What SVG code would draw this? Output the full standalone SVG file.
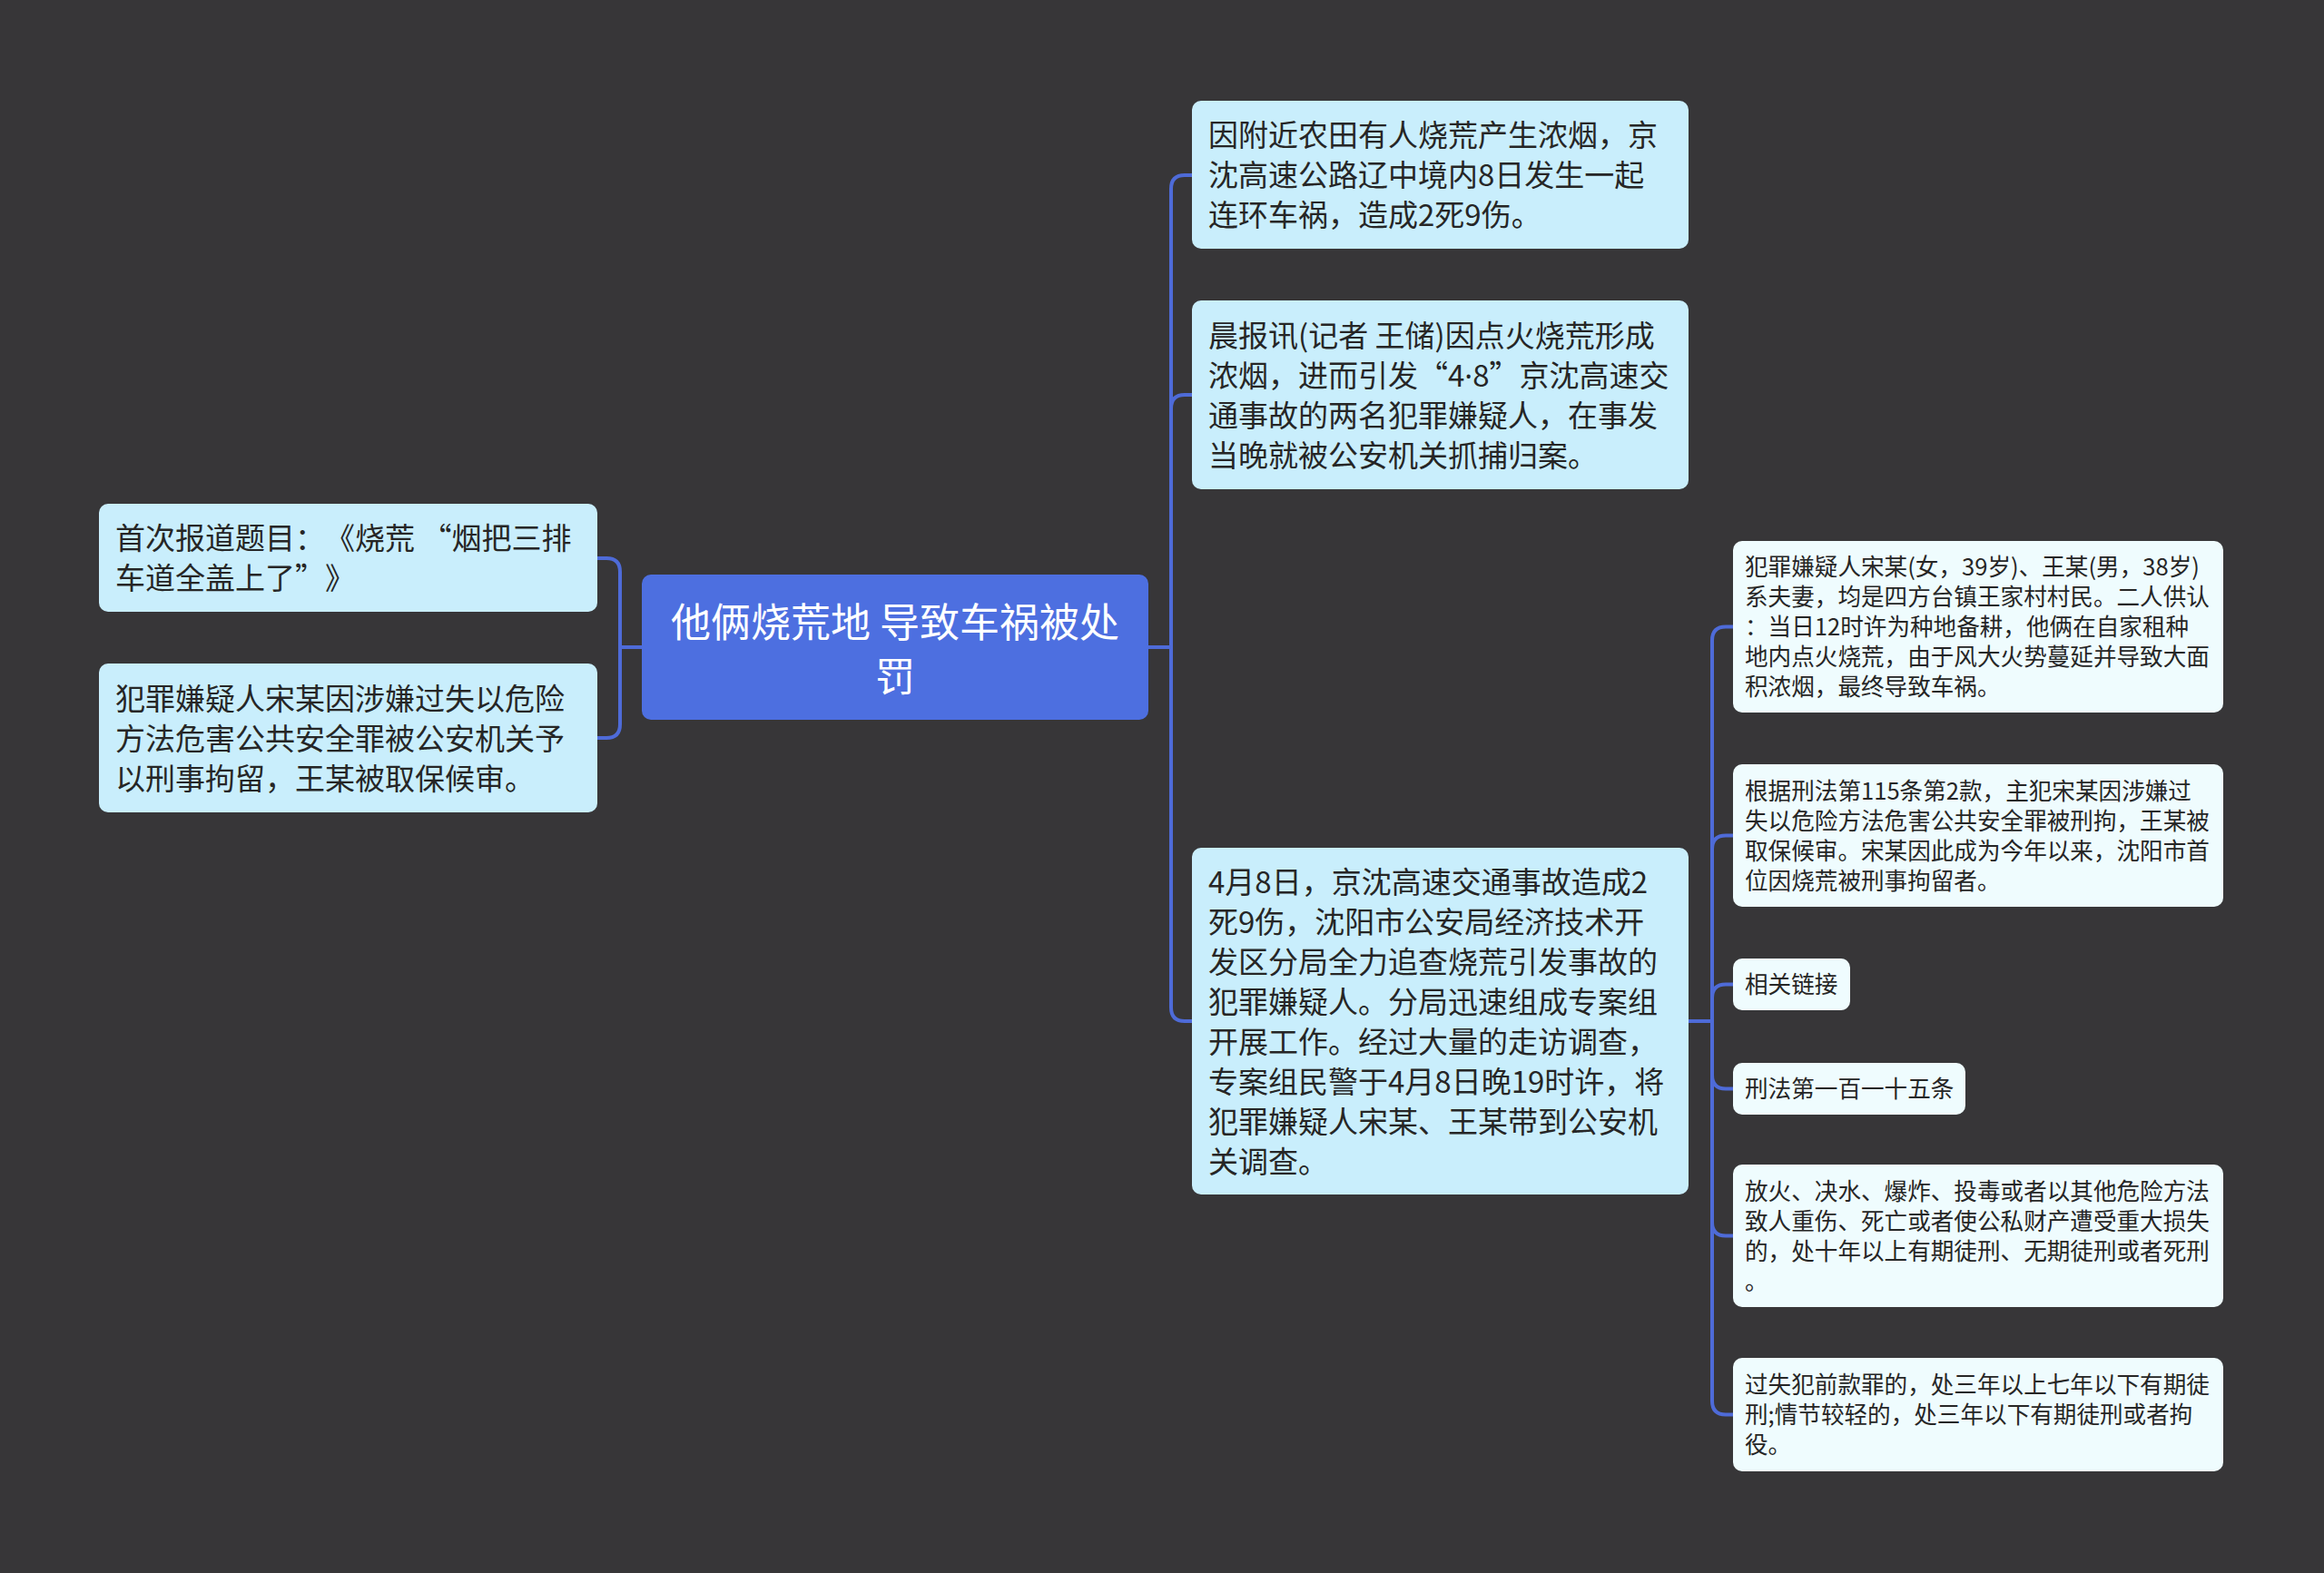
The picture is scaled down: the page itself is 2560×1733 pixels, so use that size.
<svg xmlns="http://www.w3.org/2000/svg" width="2560" height="1733" viewBox="0 0 2560 1733">
<style>
.bg{fill:#373638}
.n{fill:#c9eefc}
.s{fill:#effcfe}
.r{fill:#4d6fe0}
text{text-spacing-trim:space-all}
.t{font-family:"Noto Sans CJK SC","Noto Sans",sans-serif;font-size:33px;fill:#262626}
.ts{font-family:"Noto Sans CJK SC","Noto Sans",sans-serif;font-size:25.6px;fill:#262626}
.tr{font-family:"Noto Sans CJK SC","Noto Sans",sans-serif;font-size:44px;fill:#ffffff;text-anchor:middle}
.lat{font-family:"Noto Sans",sans-serif}
.c{fill:none;stroke:#4e6bd8;stroke-width:4}
</style>
<rect class="bg" x="0" y="0" width="2560" height="1733"/>
<g id="connectors">
<path class="c" d="M1265,713 H1290"/>
<path class="c" d="M1290,713 V208 Q1290,193 1305,193 H1313"/>
<path class="c" d="M1290,713 V450 Q1290,435 1305,435 H1313"/>
<path class="c" d="M1290,713 V1110 Q1290,1125 1305,1125 H1313"/>
<path class="c" d="M707,713 H683"/>
<path class="c" d="M683,713 V630 Q683,615 668,615 H658"/>
<path class="c" d="M683,713 V798 Q683,813 668,813 H658"/>
<path class="c" d="M1860,1125 H1886"/>
<path class="c" d="M1886,1125 V705.5 Q1886,690.5 1901,690.5 H1909"/>
<path class="c" d="M1886,1125 V935.5 Q1886,920.5 1901,920.5 H1909"/>
<path class="c" d="M1886,1125 V1099.5 Q1886,1084.5 1901,1084.5 H1909"/>
<path class="c" d="M1886,1125 V1184.5 Q1886,1199.5 1901,1199.5 H1909"/>
<path class="c" d="M1886,1125 V1346.5 Q1886,1361.5 1901,1361.5 H1909"/>
<path class="c" d="M1886,1125 V1543.5 Q1886,1558.5 1901,1558.5 H1909"/>
</g>
<g id="root">
<rect class="r" x="707" y="633" width="558" height="160" rx="10"/>
<text class="tr" x="986" y="702">他俩烧荒地 导致车祸被处</text>
<text class="tr" x="986" y="762">罚</text>
</g>
<g id="node1">
<rect class="n" x="1313" y="111" width="547" height="163" rx="10"/>
<text class="t" x="1331" y="161">因附近农田有人烧荒产生浓烟，京</text>
<text class="t" x="1331" y="205">沈高速公路辽中境内8日发生一起</text>
<text class="t" x="1331" y="249">连环车祸，造成2死9伤。</text>
</g>
<g id="node2">
<rect class="n" x="1313" y="331" width="547" height="208" rx="10"/>
<text class="t" x="1331" y="381.5">晨报讯(记者 王储)因点火烧荒形成</text>
<text class="t" x="1331" y="425.5">浓烟，进而引发“4<tspan class="lat">·</tspan>8”京沈高速交</text>
<text class="t" x="1331" y="469.5">通事故的两名犯罪嫌疑人，在事发</text>
<text class="t" x="1331" y="513.5">当晚就被公安机关抓捕归案。</text>
</g>
<g id="node3">
<rect class="n" x="1313" y="934" width="547" height="382" rx="10"/>
<text class="t" x="1331" y="983.5">4月8日，京沈高速交通事故造成2</text>
<text class="t" x="1331" y="1027.5">死9伤，沈阳市公安局经济技术开</text>
<text class="t" x="1331" y="1071.5">发区分局全力追查烧荒引发事故的</text>
<text class="t" x="1331" y="1115.5">犯罪嫌疑人。分局迅速组成专案组</text>
<text class="t" x="1331" y="1159.5">开展工作。经过大量的走访调查，</text>
<text class="t" x="1331" y="1203.5">专案组民警于4月8日晚19时许，将</text>
<text class="t" x="1331" y="1247.5">犯罪嫌疑人宋某、王某带到公安机</text>
<text class="t" x="1331" y="1291.5">关调查。</text>
</g>
<g id="left1">
<rect class="n" x="109" y="555" width="549" height="119" rx="10"/>
<text class="t" x="127" y="605">首次报道题目：《烧荒 “烟把三排</text>
<text class="t" x="127" y="649">车道全盖上了”》</text>
</g>
<g id="left2">
<rect class="n" x="109" y="731" width="549" height="164" rx="10"/>
<text class="t" x="127" y="781.5">犯罪嫌疑人宋某因涉嫌过失以危险</text>
<text class="t" x="127" y="825.5">方法危害公共安全罪被公安机关予</text>
<text class="t" x="127" y="869.5">以刑事拘留，王某被取保候审。</text>
</g>
<g id="sub1">
<rect class="s" x="1909" y="596" width="540" height="189" rx="10"/>
<text class="ts" x="1922" y="634">犯罪嫌疑人宋某(女，39岁)、王某(男，38岁)</text>
<text class="ts" x="1922" y="667">系夫妻，均是四方台镇王家村村民。二人供认</text>
<text class="ts" x="1922" y="700">：当日12时许为种地备耕，他俩在自家租种</text>
<text class="ts" x="1922" y="733">地内点火烧荒，由于风大火势蔓延并导致大面</text>
<text class="ts" x="1922" y="766">积浓烟，最终导致车祸。</text>
</g>
<g id="sub2">
<rect class="s" x="1909" y="842" width="540" height="157" rx="10"/>
<text class="ts" x="1922" y="880.5">根据刑法第115条第2款，主犯宋某因涉嫌过</text>
<text class="ts" x="1922" y="913.5">失以危险方法危害公共安全罪被刑拘，王某被</text>
<text class="ts" x="1922" y="946.5">取保候审。宋某因此成为今年以来，沈阳市首</text>
<text class="ts" x="1922" y="979.5">位因烧荒被刑事拘留者。</text>
</g>
<g id="sub3">
<rect class="s" x="1909" y="1056" width="129" height="57" rx="10"/>
<text class="ts" x="1922" y="1094">相关链接</text>
</g>
<g id="sub4">
<rect class="s" x="1909" y="1171" width="256" height="57" rx="10"/>
<text class="ts" x="1922" y="1209">刑法第一百一十五条</text>
</g>
<g id="sub5">
<rect class="s" x="1909" y="1283" width="540" height="157" rx="10"/>
<text class="ts" x="1922" y="1321.5">放火、决水、爆炸、投毒或者以其他危险方法</text>
<text class="ts" x="1922" y="1354.5">致人重伤、死亡或者使公私财产遭受重大损失</text>
<text class="ts" x="1922" y="1387.5">的，处十年以上有期徒刑、无期徒刑或者死刑</text>
<text class="ts" x="1922" y="1420.5">。</text>
</g>
<g id="sub6">
<rect class="s" x="1909" y="1496" width="540" height="125" rx="10"/>
<text class="ts" x="1922" y="1535">过失犯前款罪的，处三年以上七年以下有期徒</text>
<text class="ts" x="1922" y="1568">刑;情节较轻的，处三年以下有期徒刑或者拘</text>
<text class="ts" x="1922" y="1601">役。</text>
</g>
</svg>
